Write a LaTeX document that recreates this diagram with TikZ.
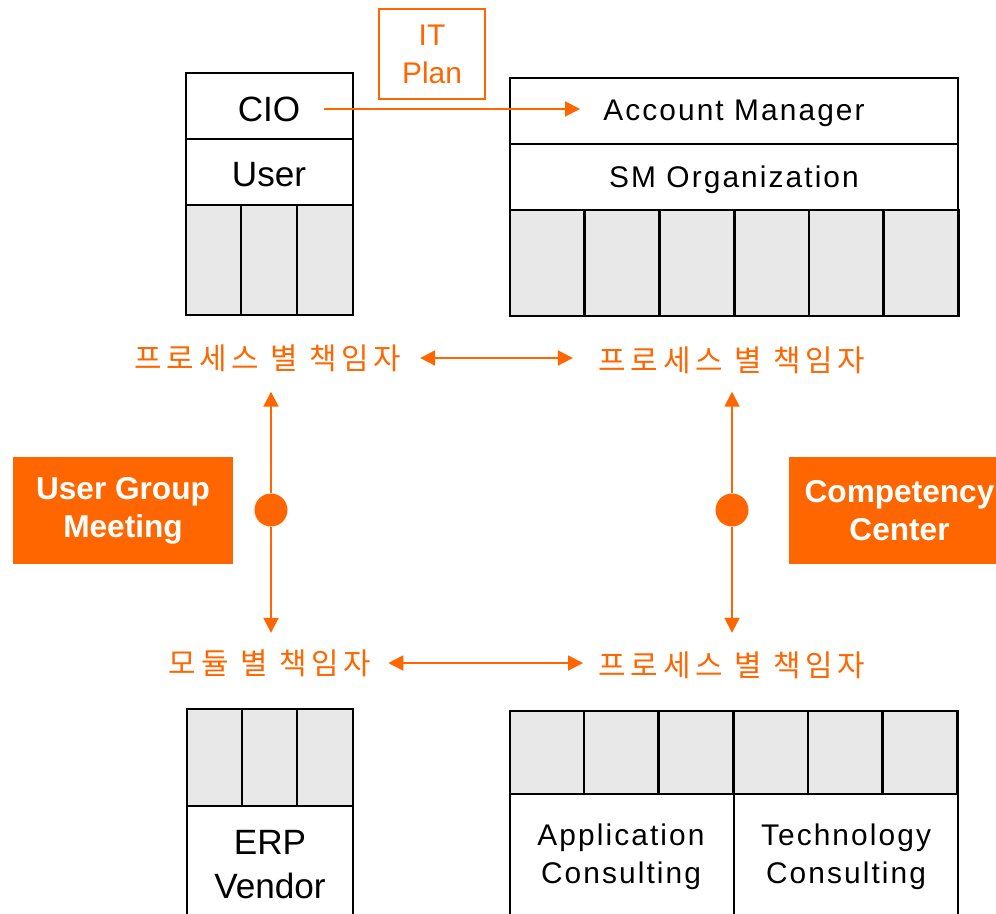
\documentclass[tikz,border=0pt]{standalone}
\usepackage{fontspec}
\setmainfont{Liberation Sans}
\newfontfamily\widefont[LetterSpace=7]{Liberation Sans}
\newfontfamily\kofont[LetterSpace=16]{Noto Sans CJK KR}
\usetikzlibrary{arrows.meta,calc}
\definecolor{orng}{HTML}{FF6600}
\definecolor{cellgray}{HTML}{E8E8E8}

\begin{document}
\begin{tikzpicture}[x=0.02cm,y=-0.02cm,
    box/.style={line width=1.6pt},
    cell/.style={line width=1.6pt,fill=cellgray},
    txt/.style={inner sep=0pt,align=center,font=\widefont\fontsize{17}{21.5}\selectfont},
    big/.style={inner sep=0pt,align=center,font=\fontsize{20}{25}\selectfont},
    who/.style={inner sep=0pt,text=orng,font=\kofont\fontsize{17}{20}\selectfont},
    tip/.tip={Triangle[length=0.3cm,width=0.3cm]},
    link/.style={draw=orng,line width=1.1pt,-tip},
    both/.style={draw=orng,line width=1.1pt,tip-tip},
    dot/.style={circle,fill=orng,minimum size=0.66cm,inner sep=0pt},
    tag/.style={fill=orng,text=white,inner sep=0pt,align=center,
      font=\bfseries\fontsize{18}{21.5}\selectfont}]
  \useasboundingbox (0,0) rectangle (996,913);

  \draw [box] (186,73) rectangle (353,139);
  \draw [box] (186,139) rectangle (353,205);
  \foreach \x in {186,241,297}
    \draw [cell] (\x,205) rectangle ++(56,110);
  \node [big] (cio) at (269,109) {CIO};
  \node [big] (user) at (269,175) {User};

  \node [draw=orng,line width=1.1pt,text=orng,minimum width=2.12cm,minimum height=1.8cm,
    inner sep=0pt,align=center,font=\fontsize{17}{21.5}\selectfont] (itplan) at (432,54) {IT\\Plan};

  \draw [box] (510,78) rectangle (958,144);
  \draw [box] (510,144) rectangle (958,210);
  \foreach \x in {510,585,660,735,809,884}
    \draw [cell] (\x,210) rectangle ++(74.7,106);
  \node [txt] (acct) at (734,113) {Account Manager};
  \node [txt] (smorg) at (734,180) {SM Organization};

  \draw [link] ($(cio.east)+(23,0)$) -- ($(acct.west |- cio.east)+(-23,0)$);

  \node [who] (ownTL) at (268,358) {프로세스 별 책임자};
  \node [who] (ownTR) at (732,360) {프로세스 별 책임자};
  \node [who] (ownBL) at (270,663) {모듈 별 책임자};
  \node [who] (ownBR) at (732,665) {프로세스 별 책임자};

  \draw [both, shorten <=10.5pt, shorten >=14.5pt] (ownTL.east) -- (ownTR.west |- ownTL.east);
  \draw [both, shorten <=9.6pt, shorten >=8.7pt] (ownBL.east) -- (ownBR.west |- ownBL.east);

  \node [dot] (dotL) at (271,510) {};
  \node [dot] (dotR) at (732,510) {};
  \draw [link, shorten >=11.3pt] (dotL) -- (dotL |- ownTL.south);
  \draw [link, shorten >=9.3pt] (dotL) -- (dotL |- ownBL.north);
  \draw [link, shorten >=11.3pt] (dotR) -- (dotR |- ownTL.south);
  \draw [link, shorten >=9.3pt] (dotR) -- (dotR |- ownBL.north);

  \node [tag,minimum width=4.4cm,minimum height=2.14cm] (ugm) at (123,510.5) {User Group\\Meeting};
  \node [tag,minimum width=4.42cm,minimum height=2.14cm] (cc) at (899.5,510.5) {Competency\\Center};

  \foreach \x in {187,242,297}
    \draw [cell] (\x,709) rectangle ++(56,97);
  \draw [box] (187,806) rectangle (353,930);
  \node [big] (erp) at (270,865) {ERP\\Vendor};

  \foreach \x in {510,584,659,734,808,883}
    \draw [cell] (\x,711) rectangle ++(74.7,83);
  \draw [box] (510,794) rectangle (734,930);
  \draw [box] (734,794) rectangle (958,930);
  \node [txt] (appc) at (621,857) {Application\\Consulting};
  \node [txt] (techc) at (846,857) {Technology\\Consulting};
\end{tikzpicture}
\end{document}
